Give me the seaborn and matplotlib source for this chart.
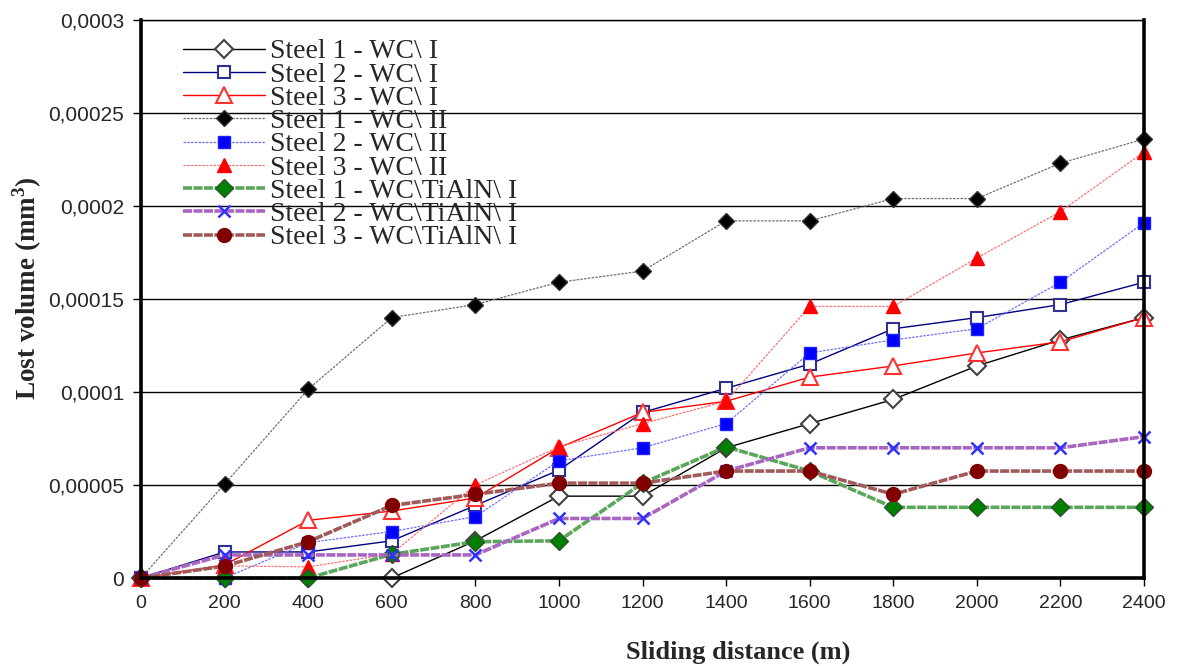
import numpy as np
import pandas as pd
import matplotlib
matplotlib.use("Agg")
import matplotlib.pyplot as plt
import seaborn as sns

# Sliding distance (m)
distance = [0, 200, 400, 600, 800, 1000, 1200, 1400, 1600, 1800, 2000, 2200, 2400]

# Lost volume (mm^3) per tool / steel combination
steel1_wc1 = [0, 0, 0, 0, 2.0e-5, 4.4e-5, 4.4e-5, 7.0e-5, 8.3e-5, 9.6e-5, 11.4e-5, 12.8e-5, 14.0e-5]
steel2_wc1 = [0, 1.4e-5, 1.4e-5, 2.0e-5, 3.9e-5, 5.8e-5, 8.9e-5, 10.2e-5, 11.5e-5, 13.4e-5, 14.0e-5, 14.7e-5, 15.9e-5]
steel3_wc1 = [0, 0.7e-5, 3.1e-5, 3.6e-5, 4.3e-5, 7.0e-5, 8.9e-5, 9.5e-5, 10.8e-5, 11.4e-5, 12.1e-5, 12.7e-5, 14.0e-5]
steel1_wc2 = [0, 5.05e-5, 10.15e-5, 14.0e-5, 14.7e-5, 15.9e-5, 16.5e-5, 19.2e-5, 19.2e-5, 20.4e-5, 20.4e-5, 22.3e-5, 23.6e-5]
steel2_wc2 = [0, 0, 1.9e-5, 2.5e-5, 3.3e-5, 6.3e-5, 7.0e-5, 8.3e-5, 12.1e-5, 12.8e-5, 13.4e-5, 15.9e-5, 19.1e-5]
steel3_wc2 = [0, 0.65e-5, 0.6e-5, 1.3e-5, 5.0e-5, 7.05e-5, 8.3e-5, 9.5e-5, 14.6e-5, 14.6e-5, 17.2e-5, 19.7e-5, 22.9e-5]
steel1_tialn = [0, 0, 0, 1.27e-5, 1.95e-5, 2.0e-5, 5.1e-5, 7.05e-5, 5.75e-5, 3.8e-5, 3.8e-5, 3.8e-5, 3.8e-5]
steel2_tialn = [0, 1.24e-5, 1.24e-5, 1.24e-5, 1.24e-5, 3.2e-5, 3.2e-5, 5.75e-5, 7.0e-5, 7.0e-5, 7.0e-5, 7.0e-5, 7.6e-5]
steel3_tialn = [0, 0.64e-5, 1.95e-5, 3.9e-5, 4.5e-5, 5.1e-5, 5.1e-5, 5.75e-5, 5.75e-5, 4.5e-5, 5.75e-5, 5.75e-5, 5.75e-5]

series_labels = [
    "Steel 1 - WC\\ I", "Steel 2 - WC\\ I", "Steel 3 - WC\\ I",
    "Steel 1 - WC\\ II", "Steel 2 - WC\\ II", "Steel 3 - WC\\ II",
    "Steel 1 - WC\\TiAlN\\ I", "Steel 2 - WC\\TiAlN\\ I", "Steel 3 - WC\\TiAlN\\ I",
]

y_ticks = [0, 0.00005, 0.0001, 0.00015, 0.0002, 0.00025, 0.0003]
y_tick_labels = ["0", "0,00005", "0,0001", "0,00015", "0,0002", "0,00025", "0,0003"]

sns.set_style("white")
plt.rcParams["font.family"] = ["Liberation Sans", "DejaVu Sans"]

fig = plt.figure(figsize=(11.77, 6.66), dpi=100)
ax = fig.add_axes([141 / 1177, 1 - 578 / 666, (1144 - 141) / 1177, (578 - 20) / 666])

# line / marker styling for each series
styles = [
    dict(color="black", lw=1.0, ls="-", marker="D", ms=9, mfc="white", mec="#404040", mew=1.5),
    dict(color="#000080", lw=1.0, ls="-", marker="s", ms=8.5, mfc="white", mec="#303090", mew=1.5),
    dict(color="#ff0000", lw=1.0, ls="-", marker="^", ms=11, mfc="white", mec="#ff3030", mew=1.5),
    dict(color="#707070", lw=0.9, ls=(0, (2, 1)), marker="D", ms=8.5, mfc="black", mec="#303030", mew=1.0),
    dict(color="#6f6fff", lw=0.9, ls=(0, (2, 1)), marker="s", ms=8.5, mfc="#0000ff", mec="#2020ff", mew=1.0),
    dict(color="#ff7070", lw=0.9, ls=(0, (2, 1)), marker="^", ms=10, mfc="#ff0000", mec="#ff0000", mew=1.0),
    dict(color="#5aa65a", lw=2.6, ls=(0, (2.5, 0.4)), marker="D", ms=9, mfc="#008000", mec="#305030", mew=1.0),
    dict(color="#a866c0", lw=2.6, ls=(0, (2.5, 0.4)), marker="x", ms=9, mfc="#0000ff", mec="#3030ff", mew=1.8),
    dict(color="#a05a5a", lw=2.6, ls=(0, (2.5, 0.4)), marker="o", ms=10, mfc="#800000", mec="#800000", mew=1.0),
]

all_series = [steel1_wc1, steel2_wc1, steel3_wc1,
              steel1_wc2, steel2_wc2, steel3_wc2,
              steel1_tialn, steel2_tialn, steel3_tialn]

# horizontal gridlines
for yv in y_ticks[1:]:
    ax.axhline(yv, color="black", lw=1.0, zorder=0.5)

for vals, label, st in zip(all_series, series_labels, styles):
    df = pd.DataFrame({"distance": distance, "volume": vals})
    sns.lineplot(data=df, x="distance", y="volume", ax=ax, label=label,
                 estimator=None, sort=False, color=st["color"], linewidth=st["lw"],
                 linestyle=st["ls"], marker=st["marker"], markersize=st["ms"],
                 markerfacecolor=st["mfc"], markeredgecolor=st["mec"],
                 markeredgewidth=st["mew"], clip_on=False)

ax.set_xlim(0, 2400)
ax.set_ylim(0, 0.0003)
ax.set_xticks(distance)
ax.set_xticklabels([str(d) for d in distance], fontsize=14)
ax.set_yticks(y_ticks)
ax.set_yticklabels(y_tick_labels, fontsize=15)
ax.tick_params(axis="both", direction="out", length=6, width=1, color="black",
               left=True, bottom=True, pad=6)

for side in ["left", "bottom", "right"]:
    ax.spines[side].set_linewidth(2.6)
    ax.spines[side].set_color("black")
ax.spines["top"].set_linewidth(1.0)
ax.spines["top"].set_color("black")

ax.set_xlabel("Sliding distance (m)", fontsize=19, fontweight="bold",
              family=["Liberation Serif", "DejaVu Serif"])
ax.set_ylabel("Lost volume (mm$^\\mathregular{3}$)", fontsize=19.5, fontweight="bold",
              family=["Liberation Serif", "DejaVu Serif"])
ax.xaxis.label.set_va("center")
ax.xaxis.set_label_coords((738 - 141) / 1003, (578 - 652) / 558)
ax.yaxis.label.set_va("center")
ax.yaxis.set_label_coords((27 - 141) / 1003, (578 - 288) / 558)

leg = ax.legend(loc="upper left", bbox_to_anchor=((183 - 141) / 1003, (578 - 39) / 558),
                frameon=False, prop={"family": ["Liberation Serif"], "size": 20},
                handlelength=2.95, handletextpad=0.2, labelspacing=-0.08,
                borderaxespad=0, borderpad=0)

fig.savefig("out.png", dpi=100)
